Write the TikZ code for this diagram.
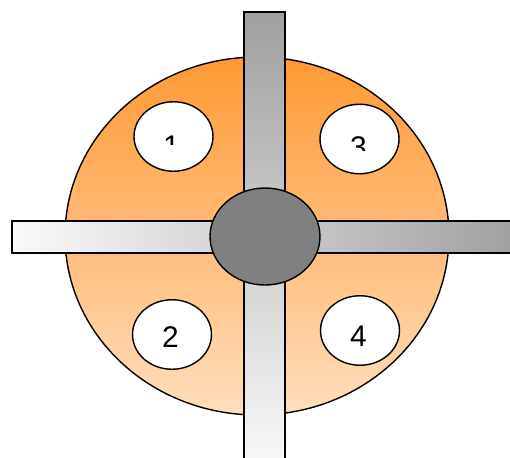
\documentclass[tikz,border=0pt]{standalone}
\usepackage{fontspec}
\setmainfont{Liberation Sans}
\usetikzlibrary{shapes.geometric}
\definecolor{discTop}{RGB}{255,153,51}
\definecolor{discBottom}{RGB}{255,222,190}
\definecolor{barDark}{RGB}{160,160,160}
\definecolor{barLight}{RGB}{250,250,250}
\definecolor{hubGray}{RGB}{128,128,128}

\begin{document}
\begin{tikzpicture}[x=0.02cm, y=-0.02cm,
    outline/.style={draw=black, line width=0.8pt},
    disc/.style={ellipse, outline, top color=discTop, bottom color=discBottom, minimum width=7.68cm, minimum height=7.16cm, inner sep=0pt},
    hole/.style={ellipse, outline, fill=white, minimum width=1.58cm, minimum height=1.39cm, inner sep=0pt},
    hub/.style={ellipse, outline, fill=hubGray, minimum width=2.2cm, minimum height=1.94cm, inner sep=0pt},
    digit/.style={font=\fontsize{17}{20}\selectfont, inner sep=0pt}
]
\useasboundingbox (0,0) rectangle (510,457);
\clip (0,0) rectangle (510,457);

% big disc
\node[disc] (disc) at (257,236) {};

% cross bars
\shade[outline, top color=barDark, bottom color=barLight] (244,12) rectangle (285,470);
\shade[outline, left color=barLight, right color=barDark] (12,221) rectangle (520,253);

% four holes
\node[hole] (hole1) at (173.5,136.5) {};
\node[hole] (hole3) at (359.5,139) {};
\node[hole] (hole2) at (172,334.5) {};
\node[hole] (hole4) at (360,330.5) {};

\begin{scope}
\clip (130,100) rectangle (220,144);
\node[digit] (num1) at (171.5,146) {1};
\end{scope}
\begin{scope}
\clip (315,100) rectangle (405,150);
\node[digit] (num3) at (358.5,147) {3};
\end{scope}
\node[digit] (num2) at (170.5,337.5) {2};
\node[digit] (num4) at (358.5,336) {4};

% hub
\node[hub] (hub) at (265,236.5) {};
\end{tikzpicture}
\end{document}
